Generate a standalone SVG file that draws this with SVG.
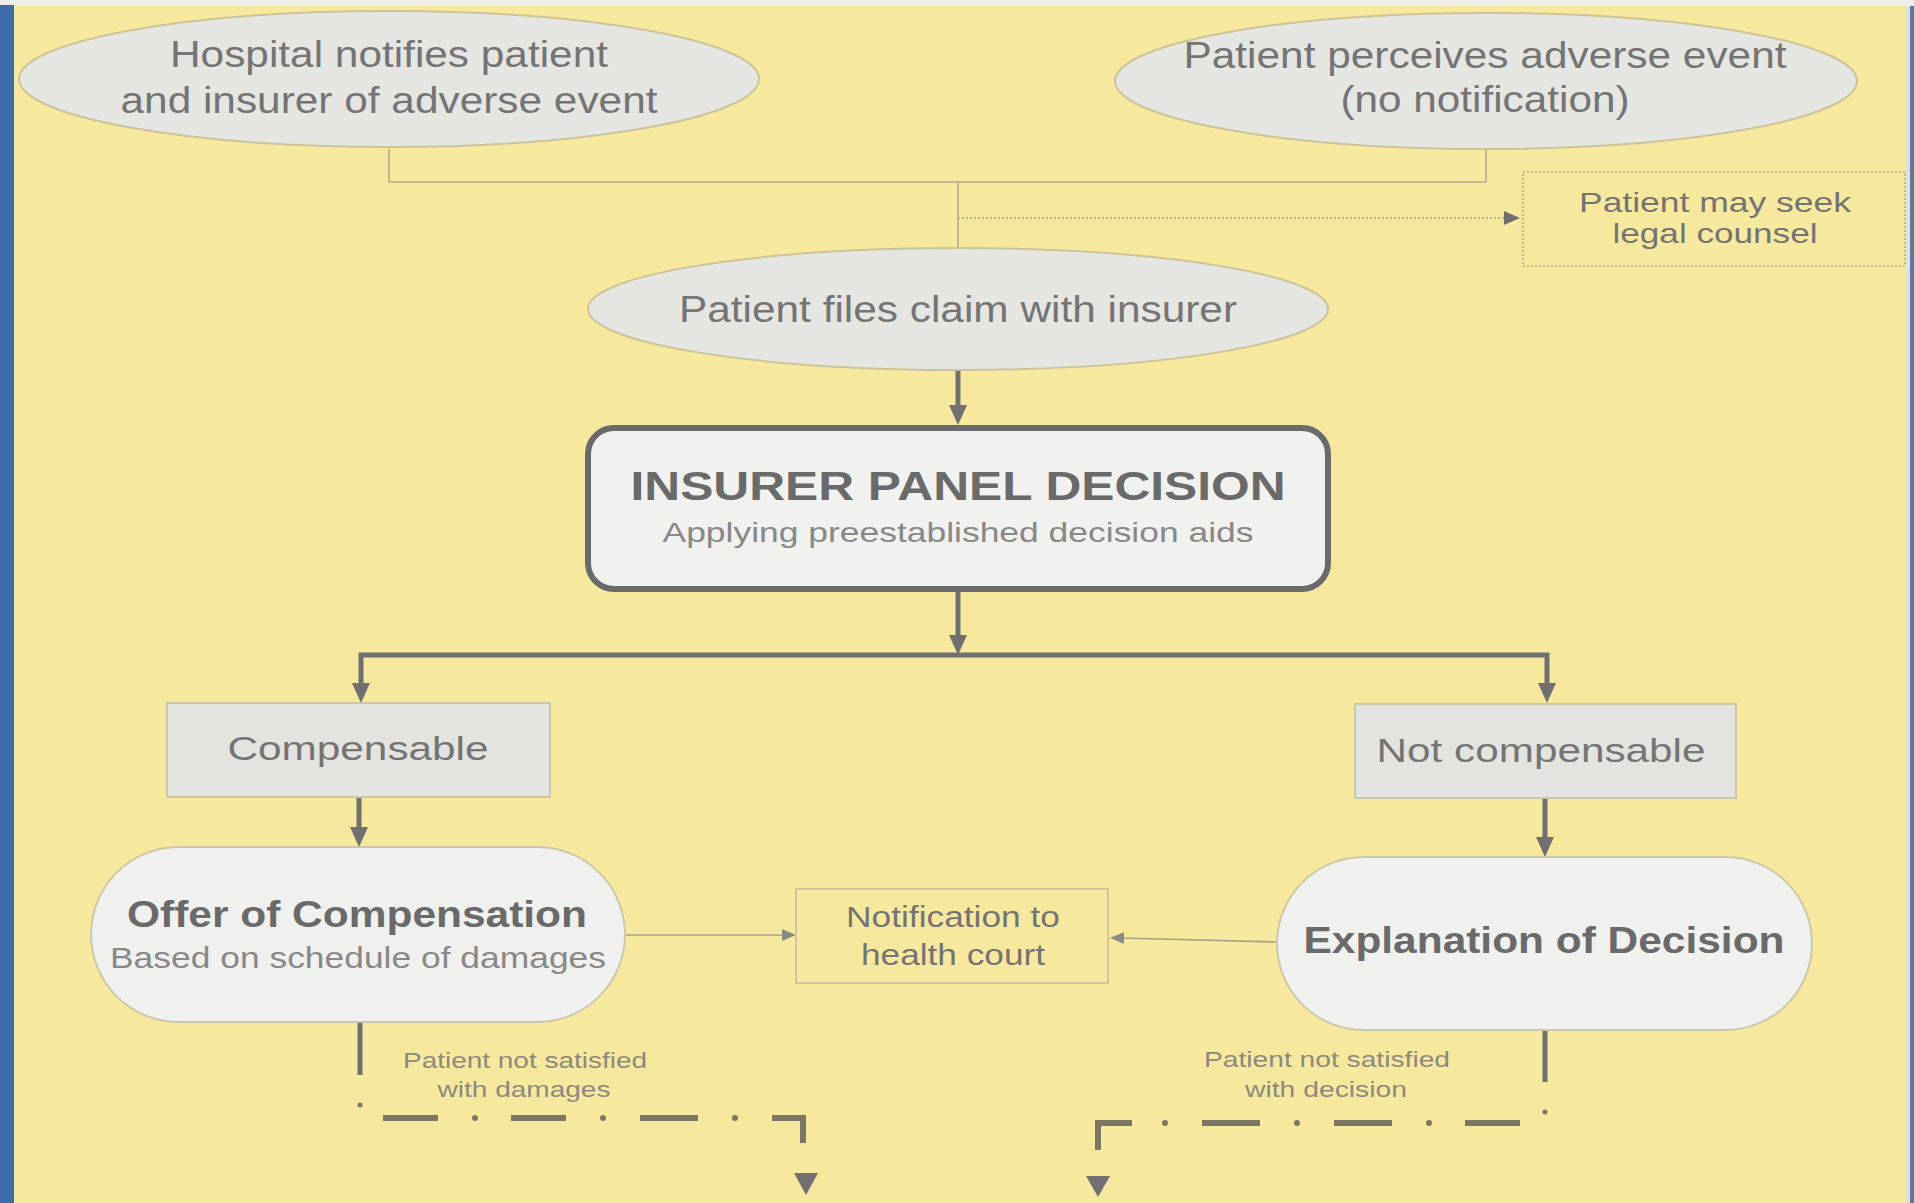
<svg xmlns="http://www.w3.org/2000/svg" width="1914" height="1203" viewBox="0 0 1914 1203">
<defs>
<style>
text{font-family:"Liberation Sans",Arial,sans-serif;text-anchor:middle}
.t{fill:#747474}
.b{font-weight:bold;fill:#6a6a6a}
.s{fill:#888888}
.lab{fill:#8c8a80}
.ell{fill:#e5e5e2;stroke:#cdc39a;stroke-width:2}
.box{fill:#e3e3e0;stroke:#cdc7aa;stroke-width:2}
.cap{fill:#f0f0ee;stroke:#cdc7aa;stroke-width:2}
.thin{fill:none;stroke:#b2ab8c;stroke-width:1.6}
.thick{fill:none;stroke:#707072;stroke-width:5}
.dd{fill:none;stroke:#7b7764;stroke-width:6}
</style>
<marker id="ah" viewBox="0 0 20 20" markerWidth="20" markerHeight="20" markerUnits="userSpaceOnUse" refX="10" refY="10" orient="auto"><path d="M0,1 L20,10 L0,19 z" fill="#707072"/></marker>
<marker id="as" viewBox="0 0 14 14" markerWidth="14" markerHeight="14" markerUnits="userSpaceOnUse" refX="4" refY="7" orient="auto"><path d="M0,1 L14,7 L0,13 z" fill="#8a8a86"/></marker>
<marker id="al" viewBox="0 0 16 16" markerWidth="16" markerHeight="16" markerUnits="userSpaceOnUse" refX="2" refY="8" orient="auto"><path d="M0,1 L16,8 L0,15 z" fill="#6e6e6e"/></marker>
</defs>
<rect x="0" y="0" width="1914" height="1203" fill="#f6e99d"/>
<rect x="0" y="0" width="1914" height="6" fill="#eeeee8"/>
<rect x="0" y="5" width="14" height="1198" fill="#3d6aa8"/>
<rect x="1906" y="6" width="4" height="1197" fill="#dfe0d6"/>
<rect x="1910" y="6" width="4" height="1197" fill="#5a78a0"/>

<g id="connectors">
<path class="thin" d="M389,149 V182 H1486 V148"/>
<path class="thin" d="M958,182 V248"/>
<path d="M958,218 H1506" fill="none" stroke="#a8a28a" stroke-width="1.6" stroke-dasharray="2 2" marker-end="url(#al)"/>
<path class="thick" d="M958,370 V415" marker-end="url(#ah)"/>
<path class="thick" d="M958,591 V645" marker-end="url(#ah)"/>
<path class="thick" d="M958,655 H361 V693" marker-end="url(#ah)"/>
<path class="thick" d="M958,655 H1547 V693" marker-end="url(#ah)"/>
<path class="thick" d="M359,797 V837" marker-end="url(#ah)"/>
<path class="thick" d="M1545,798 V847" marker-end="url(#ah)"/>
<path d="M626,935 H786" fill="none" stroke="#a8a186" stroke-width="1.6" marker-end="url(#as)"/>
<path d="M1276,942 L1120,938" fill="none" stroke="#a8a186" stroke-width="1.6" marker-end="url(#as)"/>
<g id="dashdot-left">
<path class="thick" d="M360,1022 V1075"/>
<circle cx="360" cy="1105" r="2.5" fill="#7b7764"/>
<path class="dd" d="M383,1118 H438 M511,1118 H566 M640,1118 H698"/>
<circle cx="475" cy="1118" r="3" fill="#7b7764"/>
<circle cx="603" cy="1118" r="3" fill="#7b7764"/>
<circle cx="735" cy="1118" r="3" fill="#7b7764"/>
<path class="dd" d="M772,1118 H803 V1143"/>
<path d="M794,1173 L818,1173 L806,1195 z" fill="#707072"/>
</g>
<g id="dashdot-right">
<path class="thick" d="M1545,1030 V1082"/>
<circle cx="1545" cy="1112" r="2.5" fill="#7b7764"/>
<path class="dd" d="M1465,1123 H1520 M1334,1123 H1392 M1202,1123 H1260"/>
<circle cx="1429" cy="1123" r="3" fill="#7b7764"/>
<circle cx="1297" cy="1123" r="3" fill="#7b7764"/>
<circle cx="1165" cy="1123" r="3" fill="#7b7764"/>
<path class="dd" d="M1132,1123 H1098 V1150"/>
<path d="M1086,1176 L1110,1176 L1098,1197 z" fill="#707072"/>
</g>
</g>

<g id="hospital">
<ellipse class="ell" cx="389" cy="79" rx="370" ry="68"/>
<text class="t" x="389" y="67" font-size="36" textLength="438" lengthAdjust="spacingAndGlyphs">Hospital notifies patient</text>
<text class="t" x="389" y="113" font-size="36" textLength="537" lengthAdjust="spacingAndGlyphs">and insurer of adverse event</text>
</g>
<g id="perceives">
<ellipse class="ell" cx="1486" cy="81" rx="371" ry="68"/>
<text class="t" x="1485" y="68" font-size="36" textLength="603" lengthAdjust="spacingAndGlyphs">Patient perceives adverse event</text>
<text class="t" x="1485" y="112" font-size="36" textLength="289" lengthAdjust="spacingAndGlyphs">(no notification)</text>
</g>
<g id="legal">
<rect x="1523" y="172" width="382" height="94" fill="none" stroke="#b0aa8e" stroke-width="1.6" stroke-dasharray="2 2"/>
<text class="t" x="1715" y="212" font-size="28" textLength="272" lengthAdjust="spacingAndGlyphs">Patient may seek</text>
<text class="t" x="1715" y="243" font-size="28" textLength="205" lengthAdjust="spacingAndGlyphs">legal counsel</text>
</g>
<g id="files">
<ellipse class="ell" cx="958" cy="309" rx="370" ry="61"/>
<text class="t" x="958" y="322" font-size="36" textLength="558" lengthAdjust="spacingAndGlyphs">Patient files claim with insurer</text>
</g>
<g id="panel">
<rect x="588" y="428" width="740" height="161" rx="26" fill="#f1f1ef" stroke="#6a6a6c" stroke-width="6"/>
<text class="b" x="958" y="500" font-size="40" textLength="655" lengthAdjust="spacingAndGlyphs">INSURER PANEL DECISION</text>
<text class="s" x="958" y="542" font-size="28" textLength="591" lengthAdjust="spacingAndGlyphs">Applying preestablished decision aids</text>
</g>
<g id="compensable">
<rect class="box" x="167" y="703" width="383" height="94"/>
<text class="t" x="358" y="760" font-size="34" textLength="261" lengthAdjust="spacingAndGlyphs">Compensable</text>
</g>
<g id="notcompensable">
<rect class="box" x="1355" y="704" width="381" height="94"/>
<text class="t" x="1541" y="762" font-size="34" textLength="329" lengthAdjust="spacingAndGlyphs">Not compensable</text>
</g>
<g id="offer">
<rect class="cap" x="91" y="847" width="534" height="175" rx="87.5"/>
<text class="b" x="357" y="927" font-size="36" textLength="460" lengthAdjust="spacingAndGlyphs">Offer of Compensation</text>
<text class="s" x="358" y="968" font-size="30" textLength="496" lengthAdjust="spacingAndGlyphs">Based on schedule of damages</text>
</g>
<g id="notification">
<rect x="796" y="889" width="312" height="94" fill="none" stroke="#c9c2a0" stroke-width="1.8"/>
<text class="t" x="953" y="927" font-size="29" textLength="214" lengthAdjust="spacingAndGlyphs">Notification to</text>
<text class="t" x="953" y="965" font-size="29" textLength="184" lengthAdjust="spacingAndGlyphs">health court</text>
</g>
<g id="explanation">
<rect class="cap" x="1277" y="857" width="535" height="173" rx="86.5"/>
<text class="b" x="1544" y="953" font-size="37" textLength="481" lengthAdjust="spacingAndGlyphs">Explanation of Decision</text>
</g>
<g id="label-damages">
<text class="lab" x="525" y="1068" font-size="22" textLength="244" lengthAdjust="spacingAndGlyphs">Patient not satisfied</text>
<text class="lab" x="524" y="1097" font-size="22" textLength="173" lengthAdjust="spacingAndGlyphs">with damages</text>
</g>
<g id="label-decision">
<text class="lab" x="1327" y="1067" font-size="22" textLength="246" lengthAdjust="spacingAndGlyphs">Patient not satisfied</text>
<text class="lab" x="1326" y="1097" font-size="22" textLength="162" lengthAdjust="spacingAndGlyphs">with decision</text>
</g>
</svg>
